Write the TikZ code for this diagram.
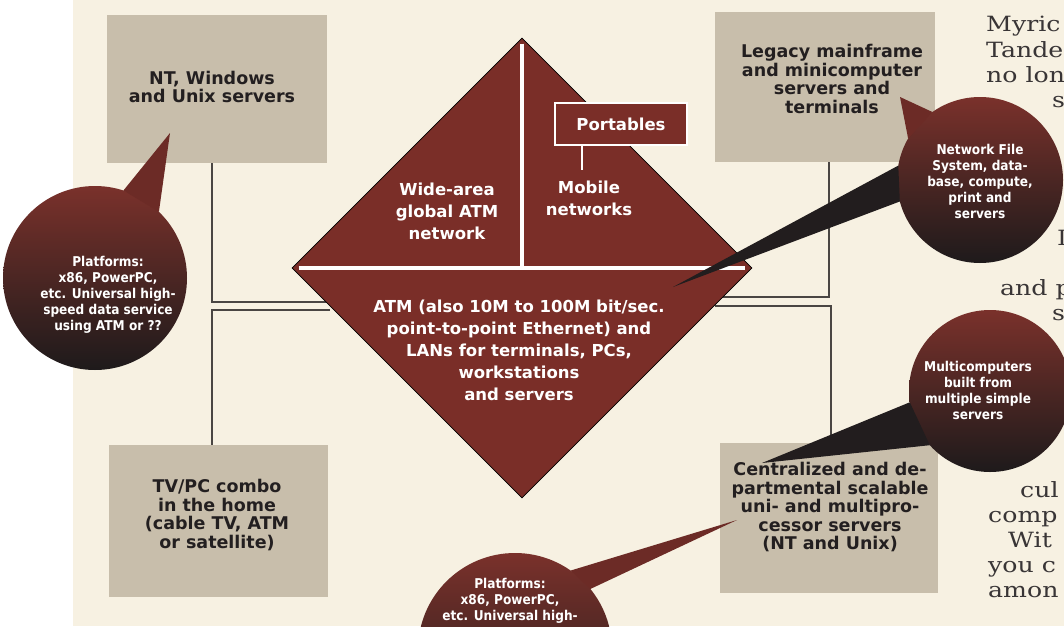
\documentclass[tikz,border=0pt]{standalone}
\usepackage{fontspec}
\newfontfamily\dejavu{DejaVu Sans}
\newfontfamily\bubfont[FakeStretch=0.9]{DejaVu Sans}
\newfontfamily\colfont[FakeStretch=1.2]{DejaVu Serif}
\usetikzlibrary{shapes.geometric}
\definecolor{paper}{HTML}{F7F1E2}
\definecolor{boxgray}{HTML}{C8BEAB}
\definecolor{netred}{HTML}{7A2E28}
\definecolor{bubtop}{HTML}{7A312B}
\definecolor{bubmid}{HTML}{4B2623}
\definecolor{bubbot}{HTML}{1E1A1B}
\definecolor{tailred}{HTML}{6C2B26}
\definecolor{taildark}{HTML}{221D1E}
\definecolor{ink}{HTML}{231F20}
\definecolor{linkgray}{HTML}{4A4643}

\begin{document}
\begin{tikzpicture}[x=1pt,y=-1pt,
  box/.style={fill=boxgray, minimum width=220, minimum height=150, inner sep=0},
  boxtext/.style={align=center, text=ink, inner sep=0,
    font=\dejavu\bfseries\fontsize{17.5}{18.5}\selectfont},
  nettext/.style={align=center, text=white, inner sep=0,
    font=\dejavu\bfseries\fontsize{16.5}{22}\selectfont},
  bubble/.style={circle, inner sep=0, outer sep=0,
    top color=bubtop, bottom color=bubbot, middle color=bubmid},
  bubtext/.style={align=center, text=white, inner sep=0,
    font=\bubfont\bfseries\fontsize{13.5}{16}\selectfont},
  coltext/.style={anchor=base west, inner sep=0, text=ink!90,
    font=\colfont\fontsize{21}{25}\selectfont},
  link/.style={draw=linkgray, line width=1.2},
  divider/.style={draw=white, line width=4},
  tailtop/.style={fill=tailred},
  tailbot/.style={fill=taildark}]
  \useasboundingbox (0,0) rectangle (1064,626);
  \clip (0,0) rectangle (1064,626);
  \fill[white] (0,0) rectangle (1064,626);
  \fill[paper] (73,0) rectangle (1064,626);

  \foreach \x/\y/\t [count=\i] in {986/32/Myric, 986/57/Tande, 986/82/no lon,
      1052/107/s, 1057/245/I, 1000/295/and p, 1052/320/s, 1020/497/cul,
      988/522/comp, 1008/547/Wit, 988/572/you c, 988/597/amon}
    \node[coltext] (col\i) at (\x,\y) {\t};

  \node[box, minimum height=148] (nt) at (217,89) {};
  \node[box] (legacy) at (825,87) {};
  \node[box, minimum width=219, minimum height=152] (tv) at (218,521) {};
  \node[box, minimum width=218] (central) at (829,518) {};
  \node[boxtext] (nttext) at (212,87) {NT, Windows\\and Unix servers};
  \node[boxtext] (legacytext) at (832,79) {Legacy mainframe\\and minicomputer\\servers and\\terminals};
  \node[boxtext] (tvtext) at (217,515) {TV/PC combo\\in the home\\(cable TV, ATM\\or satellite)};
  \node[boxtext] (centraltext) at (830,507) {Centralized and de-\\partmental scalable\\uni- and multipro-\\cessor servers\\(NT and Unix)};

  \coordinate (lw1) at (330,302);
  \coordinate (lw2) at (330,310);
  \coordinate (le1) at (715,297);
  \coordinate (le2) at (715,306);
  \draw[link] ([xshift=-5]nt.south) |- (lw1);
  \draw[link] ([xshift=-6]tv.north) |- (lw2);
  \draw[link] ([xshift=4]legacy.south) |- (le1);
  \draw[link] ([xshift=2]central.north) |- (le2);

  \node[diamond, fill=netred, draw=black, line width=0.8, minimum width=460,
    minimum height=460, inner sep=0] (net) at (522,268) {};
  \draw[divider] ([xshift=7]net.west) -- ([xshift=-7]net.east);
  \draw[divider] ([yshift=-6]net.north) -- (net.center);
  \node[fill=netred, draw=white, line width=1.5, minimum width=132, minimum height=42,
    inner sep=0, text=white, font=\dejavu\bfseries\fontsize{16.5}{20}\selectfont]
    (port) at (621,124) {Portables};
  \coordinate (stemend) at (582,170);
  \draw[white, line width=1.5] (port.south -| stemend) -- (stemend);
  \node[nettext] (wan) at (447,211) {Wide-area\\global ATM\\network};
  \node[nettext] (mob) at (589,198) {Mobile\\networks};
  \node[nettext] (lan) at (519,350) {ATM (also 10M to 100M bit/sec.\\point-to-point Ethernet) and\\LANs for terminals, PCs,\\workstations\\and servers};

  \node[bubble, minimum size=184] (plat) at (95,278) {};
  \node[bubble, minimum size=166] (nfs) at (980,180) {};
  \node[bubble, minimum size=162] (multi) at (990,391) {};
  \node[bubble, minimum size=194] (platb) at (515,650) {};
  \coordinate (tipnt) at (170,133);
  \coordinate (tiplegacy) at (900,97);
  \coordinate (tipnet) at (673,287);
  \coordinate (tipcentral) at (762,463);
  \coordinate (tipcentralb) at (737,520);
  \fill[tailtop] (tipnt) -- (plat.46) -- (plat.72) -- cycle;
  \fill[tailtop] (tiplegacy) -- (nfs.125) -- (nfs.150) -- cycle;
  \fill[tailbot] (tipnet) -- (nfs.170) -- (nfs.195) -- cycle;
  \fill[tailbot] (tipcentral) -- (multi.188) -- (multi.222) -- cycle;
  \fill[tailtop] (tipcentralb) -- (platb.39) -- (platb.55) -- cycle;
  \node[bubtext] (plattext) at (108,295) {Platforms:\\x86, PowerPC,\\etc. Universal high-\\speed data service\\using ATM or ??};
  \node[bubtext] (nfstext) at (980,181) {Network File\\System, data-\\base, compute,\\print and\\servers};
  \node[bubtext] (multitext) at (978,390) {Multicomputers\\built from\\multiple simple\\servers};
  \node[bubtext] (platbtext) at (510,601) {Platforms:\\x86, PowerPC,\\etc. Universal high-};
\end{tikzpicture}
\end{document}
